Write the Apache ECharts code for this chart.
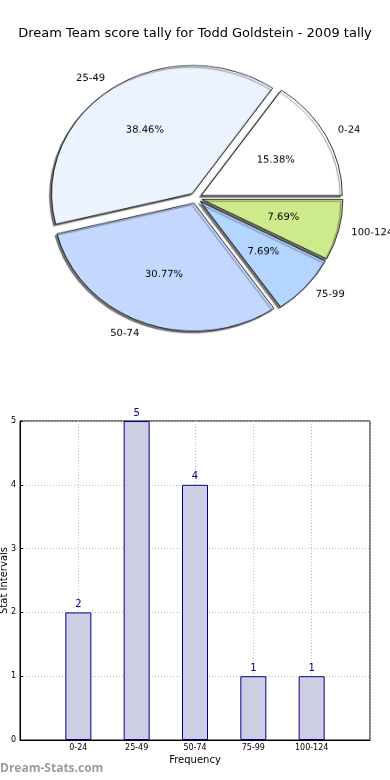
<!DOCTYPE html>
<html>
<head>
<meta charset="utf-8">
<script src="https://cdn.jsdelivr.net/npm/echarts@6/dist/echarts.min.js"></script>
<style>
html,body{margin:0;padding:0;background:#fff}
#wrap{position:relative;width:390px;height:780px}
#bar{position:absolute;left:0;top:0;width:390px;height:780px}
#pie{position:absolute;left:0;top:0;width:390px;height:400px;transform:scaleY(0.908);transform-origin:195px 198px}
</style>
</head>
<body>
<div id="wrap"><div id="bar"></div><div id="pie"></div></div>
<script>
const titleText = 'Dream Team score tally for Todd Goldstein - 2009 tally';
const categories = ['0-24', '25-49', '50-74', '75-99', '100-124'];
const counts = [2, 5, 4, 1, 1];
const sliceColors = ['#ffffff', '#ebf3ff', '#c4d8ff', '#b4d5ff', '#cdeb8b'];
const yTicks = [0, 1, 2, 3, 4, 5];
const xAxisName = 'Frequency';
const yAxisName = 'Stat Intervals';
const watermark = 'Dream-Stats.com';

const total = counts.reduce((a, b) => a + b, 0);
const FONT = 'DejaVu Sans';
const R = 141;
const center = [196, 198];

const barChart = echarts.init(document.getElementById('bar'), null, { renderer: 'canvas' });
barChart.setOption({
  animation: false,
  backgroundColor: '#ffffff',
  textStyle: { fontFamily: FONT },
  title: {
    text: titleText, left: 'center', top: 22,
    textStyle: { fontFamily: FONT, fontSize: 13, fontWeight: 'normal', color: '#000' }
  },
  graphic: [{
    type: 'text', left: 0, top: 763,
    style: { text: watermark, fill: '#9c9c9c', font: 'bold 12px "Open Sans"' }
  }],
  grid: {
    left: 20, right: 20, top: 421, bottom: 40,
    containLabel: false, outerBoundsMode: 'none',
    show: true, borderColor: '#000', borderWidth: 1
  },
  xAxis: {
    type: 'value', min: -1, max: 5, interval: 1,
    name: xAxisName, nameLocation: 'middle', nameGap: 15, nameMoveOverlap: false,
    nameTextStyle: { fontFamily: FONT, fontSize: 10, color: '#000' },
    axisLine: { show: true, onZero: false, lineStyle: { color: '#000' } },
    axisTick: { show: false },
    axisLabel: {
      fontFamily: FONT, fontSize: 8, color: '#000', margin: 4,
      formatter: v => (v >= 0 && v < categories.length ? categories[v] : '')
    },
    splitLine: { show: true, lineStyle: { color: '#bdbdbd', type: [1, 2] } }
  },
  yAxis: {
    type: 'value', min: yTicks[0], max: yTicks[yTicks.length - 1], interval: 1,
    name: yAxisName, nameLocation: 'middle', nameGap: 11, nameMoveOverlap: false,
    nameTextStyle: { fontFamily: FONT, fontSize: 10, color: '#000' },
    axisLine: { show: true, onZero: false, lineStyle: { color: '#000' } },
    axisTick: { show: true, inside: true, length: 3, lineStyle: { color: '#000' } },
    axisLabel: { fontFamily: FONT, fontSize: 8, color: '#000', margin: 4 },
    splitLine: { show: true, lineStyle: { color: '#bdbdbd', type: [1, 2] } }
  },
  series: [{
    type: 'bar',
    data: counts.map((v, i) => [i, v]),
    barWidth: 26,
    itemStyle: { color: '#cdcde3', borderColor: '#00008b', borderWidth: 1 },
    label: {
      show: true, position: 'top', distance: 3,
      formatter: p => String(p.value[1]),
      fontFamily: FONT, fontSize: 10, color: '#00008b'
    }
  }]
});

const pieChart = echarts.init(document.getElementById('pie'), null, { renderer: 'canvas' });
pieChart.setOption({
  animation: false,
  textStyle: { fontFamily: FONT },
  series: [
    {
      type: 'pie', center: center, radius: R,
      startAngle: 0, clockwise: false,
      selectedMode: 'multiple', selectedOffset: 6,
      avoidLabelOverlap: false, silent: true,
      data: categories.map((c, i) => ({ name: c, value: counts[i], selected: true, itemStyle: { color: sliceColors[i] } })),
      itemStyle: {
        borderColor: '#000', borderWidth: 0.8,
        shadowColor: 'rgba(0,0,0,0.55)', shadowBlur: 1, shadowOffsetX: -2, shadowOffsetY: 2
      },
      label: {
        show: true, position: 'outside', formatter: '{b}',
        fontFamily: FONT, fontSize: 10, color: '#000', distanceToLabelLine: 0
      },
      labelLine: { show: false, length: 13, length2: 0 },
      z: 2
    },
    {
      type: 'pie', center: center, radius: R * 1.15,
      startAngle: 0, clockwise: false,
      selectedMode: 'multiple', selectedOffset: 6,
      avoidLabelOverlap: false, silent: true,
      data: categories.map((c, i) => ({ name: c, value: counts[i], selected: true })),
      itemStyle: { color: 'rgba(0,0,0,0)', borderWidth: 0 },
      label: {
        show: true, position: 'inside',
        formatter: p => (p.value / total * 100).toFixed(2) + '%',
        fontFamily: FONT, fontSize: 10, color: '#000'
      },
      labelLine: { show: false },
      z: 3
    }
  ]
});
</script>
</body>
</html>
